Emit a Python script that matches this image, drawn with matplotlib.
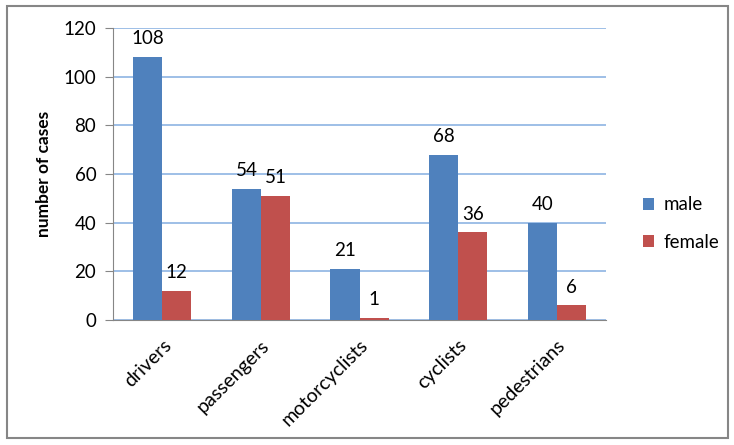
import numpy as np
import matplotlib.pyplot as plt
from matplotlib.patches import Rectangle

categories = ['drivers', 'passengers', 'motorcyclists', 'cyclists', 'pedestrians']
male = [108, 54, 21, 68, 40]
female = [12, 51, 1, 36, 6]

plt.rcParams['font.family'] = ['Lato', 'DejaVu Sans']

fig = plt.figure(figsize=(7.34, 4.45), dpi=100)
W, H = 734, 445
ax = fig.add_axes([113 / W, 1 - 320 / H, (606 - 113) / W, (320 - 28) / H])

# outer frame
fig.patches.append(Rectangle((7 / W, 1 - 438 / H), (728 - 7) / W, (438 - 6) / H,
                             transform=fig.transFigure, fill=False,
                             edgecolor='#868686', linewidth=1.5))

x = np.arange(len(categories))
w = 0.295
b1 = ax.bar(x - w / 2, male, w, color='#4F81BD', label='male', zorder=3)
b2 = ax.bar(x + w / 2, female, w, color='#C0504D', label='female', zorder=3)

for bars in (b1, b2):
    for r in bars:
        ax.text(r.get_x() + r.get_width() / 2, r.get_height() + 4, str(int(r.get_height())),
                ha='center', va='bottom', fontsize=13.5)

ax.set_xlim(-0.5, len(categories) - 0.5)
ax.set_ylim(0, 120)
ax.set_yticks(range(0, 121, 20))
ax.yaxis.grid(True, color='#8EB4E3', linewidth=1.2, zorder=0)
ax.set_axisbelow(True)

for s in ('top', 'right'):
    ax.spines[s].set_visible(False)
ax.spines['left'].set_color('#868686')
ax.spines['bottom'].set_color('#868686')
ax.tick_params(axis='y', length=6, color='#868686', labelsize=13.5, pad=6)
ax.tick_params(axis='x', length=0, labelsize=14, pad=12)
ax.set_xticks(x)
ax.set_xticklabels(categories, rotation=45, ha='right', rotation_mode='anchor')

ax.set_ylabel('number of cases', fontsize=12.5, fontweight='bold', labelpad=8)

ax.legend(loc='center left', bbox_to_anchor=(1.04, 0.33), frameon=False, fontsize=13.5,
          handlelength=0.6, handleheight=0.6, labelspacing=1.1, handletextpad=0.5)

fig.savefig('out.png', dpi=100)
